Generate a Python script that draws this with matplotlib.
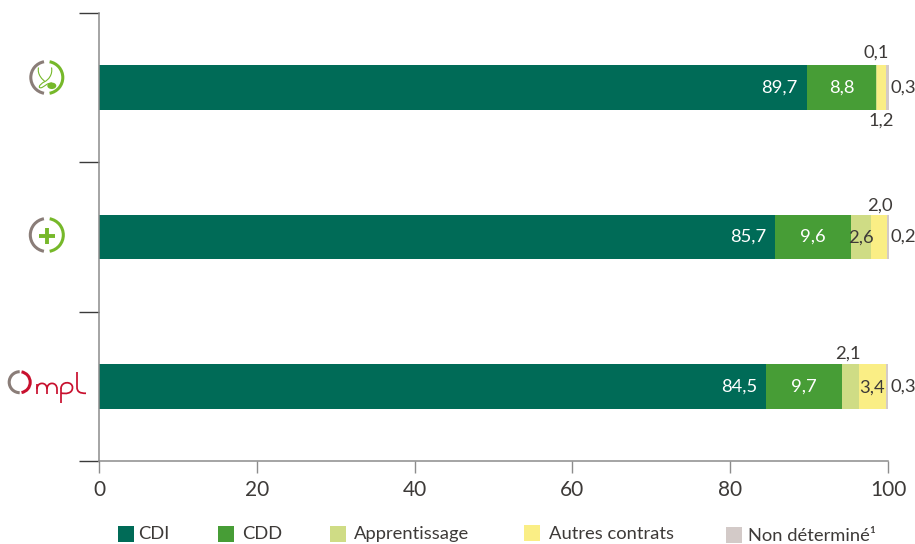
import matplotlib
matplotlib.use("Agg")
import matplotlib.pyplot as plt
from matplotlib.patches import Rectangle, Arc, PathPatch, Ellipse
from matplotlib.path import Path
import numpy as np

plt.rcParams['font.family'] = ['Lato', 'DejaVu Sans']

W, H = 915, 544
rows = ["Santé", "Pharma", "Ompl"]
series = ["CDI", "CDD", "Apprentissage", "Autres contrats", "Non déterminé¹"]
cdi = [89.7, 85.7, 84.5]
cdd = [8.8, 9.6, 9.7]
apprentissage = [0.1, 2.6, 2.1]
autres = [1.2, 2.0, 3.4]
non_det = [0.3, 0.2, 0.3]
columns = [cdi, cdd, apprentissage, autres, non_det]
colors = ["#006B57", "#479D36", "#CFDC85", "#FAEE85", "#D3CAC8"]
xticks = [0, 20, 40, 60, 80, 100]

TXT = "#3D3A38"
GRAY = "#8C8C8C"
px = 0.72

fig = plt.figure(figsize=(W/100, H/100), dpi=100)
ax = fig.add_axes([99/W, 1-461/H, 789/W, 448/H])
ax.set_xlim(0, 100)
ax.set_ylim(3, 0)

ypos = np.arange(3) + 0.5
left = np.zeros(3)
for vals, c in zip(columns, colors):
    ax.barh(ypos, vals, left=left, height=45/149.5, color=c, linewidth=0, zorder=2, clip_on=False)
    left = left + np.array(vals)

for s in ("top", "right"):
    ax.spines[s].set_visible(False)
ax.spines["left"].set_color(GRAY)
ax.spines["left"].set_linewidth(1.1)
ax.spines["bottom"].set_color(GRAY)
ax.spines["bottom"].set_linewidth(1.1)
ax.set_xticks(xticks)
ax.set_xticklabels([str(t) for t in xticks], fontsize=15, color=TXT)
ax.tick_params(axis="x", length=12*px, width=1.0, color=GRAY, pad=5)
ax.set_yticks([0, 1, 2, 3])
ax.set_yticklabels([])
ax.tick_params(axis="y", length=20*px, width=1.0, color="#3A3A3A")

def fmt(v):
    return f"{v:.1f}".replace(".", ",")

FS = 13.2
def lab(v, x, row, dx=0, dy=0, color=TXT):
    ax.annotate(fmt(v), xy=(x, row+0.5), xytext=(dx*px, -dy*px), textcoords="offset points",
                ha="center", va="center", fontsize=FS, color=color, zorder=4)

for i in range(3):
    lab(cdi[i], cdi[i], i, dx=-27, color="white")
    lab(cdd[i], cdi[i]+cdd[i]/2, i, color="white")

# row 0 labels
lab(apprentissage[0], 98.5, 0, dy=-35)
lab(autres[0], 98.5, 0, dx=5, dy=33)
lab(non_det[0], 100, 0, dx=15)
# row 1 labels
lab(apprentissage[1], cdi[1]+cdd[1]+apprentissage[1]/2, 1, dy=1)
lab(autres[1], 98.3, 1, dx=5, dy=-31)
lab(non_det[1], 100, 1, dx=15)
# row 2 labels
lab(apprentissage[2], cdi[2]+cdd[2]+apprentissage[2]/2, 2, dx=-3, dy=-33)
lab(autres[2], cdi[2]+cdd[2]+apprentissage[2]+autres[2]/2, 2, dy=1)
lab(non_det[2], 100, 2, dx=15)

# overlay in pixel coordinates for logos and legend
ov = fig.add_axes([0, 0, 1, 1], facecolor="none")
ov.set_xlim(0, W)
ov.set_ylim(H, 0)
ov.axis("off")

BROWN = "#8A7D78"
LG = "#76B82A"
RED = "#C8102E"

def ring(cx, cy, d, lw):
    ov.add_patch(Arc((cx, cy), d, d, theta1=100, theta2=260, color=BROWN, lw=lw))
    ov.add_patch(Arc((cx, cy), d, d, theta1=-80, theta2=80, color=LG, lw=lw))

def curve(pts, color, lw):
    codes = [Path.MOVETO] + [Path.CURVE4] * (len(pts) - 1)
    ov.add_patch(PathPatch(Path(pts, codes), fc="none", ec=color, lw=lw, capstyle="butt"))

# logo 1: stethoscope
ring(46.8, 77.5, 32, 2.2)
curve([(38.5, 67.5), (37, 75), (43, 80), (45, 81.5), (48, 80), (53, 75), (51.5, 67.5)], LG, 0.8)
curve([(45, 81.5), (38, 85), (38, 89), (42, 87.5), (45, 86), (47, 83), (52, 83)], LG, 0.8)
ov.add_patch(Ellipse((51.8, 85.8), 9, 6.5, color=LG, lw=0))
# logo 2: plus
ring(46.8, 235, 33, 2.2)
ov.plot([38.5, 55], [235.5, 235.5], color=LG, lw=2.8, solid_capstyle="butt")
ov.plot([46.8, 46.8], [227.5, 243.5], color=LG, lw=2.8, solid_capstyle="butt")
# logo 3: Ompl
ov.add_patch(Arc((19.7, 382.2), 21, 21, theta1=90, theta2=270, color=BROWN, lw=2.2))
ov.add_patch(Arc((19.7, 382.2), 21, 21, theta1=-80, theta2=80, color=RED, lw=2.2))
LW = 1.25
# m
ov.plot([37, 37], [394, 384], color=RED, lw=LW, solid_capstyle="butt")
curve([(37, 389), (37, 381.5), (47, 381.5), (47, 389)], RED, LW)
ov.plot([47, 47], [388.5, 394], color=RED, lw=LW, solid_capstyle="butt")
curve([(47, 389), (47, 381.5), (57, 381.5), (57, 389)], RED, LW)
ov.plot([57, 57], [388.5, 394], color=RED, lw=LW, solid_capstyle="butt")
# p
ov.plot([61, 61], [403, 388], color=RED, lw=LW, solid_capstyle="butt")
curve([(61, 388.5), (61, 381), (72.5, 381), (72.5, 387.5), (72.5, 394), (65, 394), (61, 393)], RED, LW)
# l
ov.plot([77, 77], [372, 387], color=RED, lw=LW, solid_capstyle="butt")
curve([(77, 387), (77, 392), (80, 393.3), (86, 393.3)], RED, LW)

# legend
box_x = [118, 218, 330, 524, 726]
box_y = [526, 526, 526, 525, 527]
text_x = [138, 242, 354, 549, 748]
text_y = [534, 534, 534, 534, 536]
for name, c, bx, by, tx, ty in zip(series, colors, box_x, box_y, text_x, text_y):
    ov.add_patch(Rectangle((bx, by), 16, 16, color=c, lw=0))
    ov.text(tx, ty, name, fontsize=13.2, color=TXT, ha="left", va="center")

fig.savefig("out.png", dpi=100)
